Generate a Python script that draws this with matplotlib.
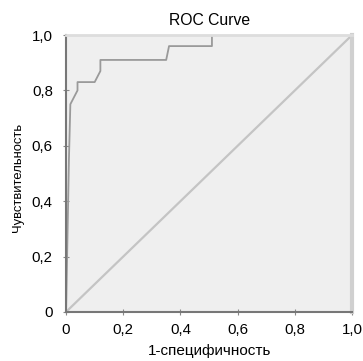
import matplotlib
matplotlib.use('Agg')
import matplotlib.pyplot as plt

# точки ROC-кривой
fpr = [0, 0.01, 0.015, 0.03, 0.04, 0.04, 0.10, 0.12, 0.12, 0.35, 0.36, 0.51, 0.51, 1.0]
tpr = [0, 0.55, 0.75, 0.78, 0.80, 0.83, 0.83, 0.87, 0.91, 0.91, 0.96, 0.96, 1.0, 1.0]
ref_line = [0, 1]
ticks = [0, 0.2, 0.4, 0.6, 0.8, 1.0]
tick_labels = ['0', '0,2', '0,4', '0,6', '0,8', '1,0']

plt.rcParams['font.family'] = ['Liberation Sans', 'DejaVu Sans']

fig = plt.figure(figsize=(3.63, 3.61), dpi=100)
ax = fig.add_axes([0.182, 0.136, 0.788, 0.767])
ax.set_facecolor('#efefef')

ax.plot(ref_line, ref_line, color='#c4c4c4', lw=1.6)
ax.plot(fpr, tpr, color='#9a9a9a', lw=1.3)

ax.set_xlim(0, 1.0)
ax.set_ylim(0, 1.0)
ax.set_xticks(ticks)
ax.set_xticklabels(tick_labels)
ax.set_yticks(ticks)
ax.set_yticklabels(tick_labels)
ax.tick_params(labelsize=10.8, length=4, color='#888888', direction='inout', pad=7.5)
ax.tick_params(axis='x', pad=6)

for side in ['left', 'bottom']:
    ax.spines[side].set_color('#777777')
    ax.spines[side].set_linewidth(1.5)
ax.spines['right'].set_color('#d0d0d0')
ax.spines['right'].set_linewidth(3)
ax.spines['top'].set_color('#dddddd')
ax.spines['top'].set_linewidth(2)

ax.set_title('ROC Curve', fontsize=11.3, pad=7)
ax.set_xlabel('1-специфичность', fontsize=11, labelpad=5)
ax.set_ylabel('Чувствительность', fontsize=9.4)
ax.yaxis.set_label_coords(-0.148, 0.485)

fig.savefig('out.png', dpi=100)
